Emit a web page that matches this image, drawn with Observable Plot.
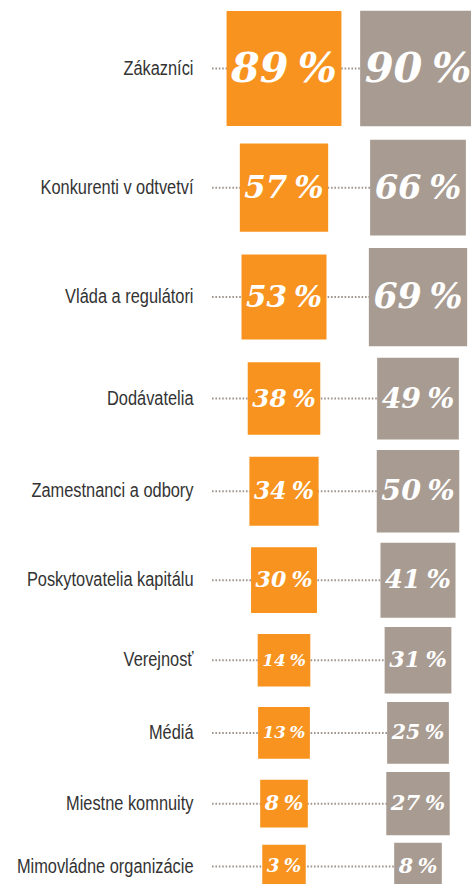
<!DOCTYPE html>
<html><head><meta charset="utf-8">
<script src="https://cdn.jsdelivr.net/npm/d3@7"></script>
<script src="https://cdn.jsdelivr.net/npm/@observablehq/plot@0.6"></script>
<style>
html,body{margin:0;padding:0;background:#fff;}
.vals text{word-spacing:-0.12em;}
</style></head><body><div id="chart"></div>
<script>
const categories = ["Zákazníci","Konkurenti v odtvetví","Vláda a regulátori","Dodávatelia","Zamestnanci a odbory","Poskytovatelia kapitálu","Verejnosť","Médiá","Miestne komnuity","Mimovládne organizácie"];
const orangeValues = [89,57,53,38,34,30,14,13,8,3];
const grayValues = [90,66,69,49,50,41,31,25,27,8];
const seriesNames = ["seriesA","seriesB"];
const seriesColors = ["#f7931e","#a89b91"];
const valueSuffix = " %";

const W = 471, H = 884;
const SQRT_PI = Math.sqrt(Math.PI);
const R_RANGE = [41 / SQRT_PI, 124 / SQRT_PI];
const rScale = Plot.scale({r: {type: "linear", domain: [0, 100], range: R_RANGE}});
const side = v => rScale.apply(v) * SQRT_PI;

// row layout derived from the values (larger rows take more room)
const rowMax = categories.map((c, i) => Math.max(orangeValues[i], grayValues[i]));
const GAP_UNITS = 50;
const rowPos = [0];
for (let i = 1; i < rowMax.length; i++) rowPos.push(rowPos[i - 1] + (rowMax[i - 1] + rowMax[i]) / 2 + GAP_UNITS);

const COL = {labelEnd: 193, lineStart: 212, seriesA: 283.5, seriesB: 417.5};

const rows = categories.map((c, i) => ({category: c, pos: rowPos[i]}));
const squares = categories.flatMap((c, i) => [
  {category: c, pos: rowPos[i], series: "seriesA", value: orangeValues[i]},
  {category: c, pos: rowPos[i], series: "seriesB", value: grayValues[i]}
]);

const VALUE_FONT = '"DejaVu Serif", serif';
const LABEL_FONT = '"Liberation Sans", Arial, sans-serif';
const LABEL_SQUEEZE = 0.84;
const ctx = document.createElement("canvas").getContext("2d");
function valueFontSize(v) {
  const s = v + valueSuffix;
  ctx.font = `italic bold 100px ${VALUE_FONT}`;
  const w = ctx.measureText(s).width - 0.12 * 100;
  return 100 * (side(v) - 9) / w;
}

const chart = Plot.plot({
  width: W, height: H, margin: 0,
  x: {type: "linear", domain: [0, W], range: [0, W], axis: null},
  y: {type: "linear", domain: [0, rowPos[rowPos.length - 1]], range: [68, 866], axis: null},
  r: {type: "linear", domain: [0, 100], range: R_RANGE},
  color: {type: "ordinal", domain: seriesNames, range: seriesColors},
  marks: [
    Plot.ruleY(rows, {y: "pos", x1: COL.lineStart, x2: COL.seriesB, stroke: "#a0958c", strokeWidth: 2, strokeDasharray: "1.6,1.8"}),
    Plot.dot(squares, {x: d => COL[d.series], y: "pos", r: "value", symbol: "square", fill: "series", stroke: null}),
    Plot.text(squares, {x: d => COL[d.series], y: "pos", text: d => d.value + valueSuffix, fill: "white",
      fontSize: d => valueFontSize(d.value), fontWeight: "bold", fontStyle: "italic", fontFamily: VALUE_FONT, className: "vals"}),
    Plot.text(rows, {x: COL.labelEnd, y: "pos", text: "category", textAnchor: "end", fill: "#333",
      fontSize: 19.5, fontFamily: LABEL_FONT, className: "labels"})
  ]
});
document.getElementById("chart").appendChild(chart);
// condensed look: compress the label glyphs horizontally
chart.querySelectorAll(".labels text").forEach(el => {
  const w = el.getComputedTextLength();
  el.setAttribute("textLength", (w * LABEL_SQUEEZE).toFixed(1));
  el.setAttribute("lengthAdjust", "spacingAndGlyphs");
});
</script></body></html>
